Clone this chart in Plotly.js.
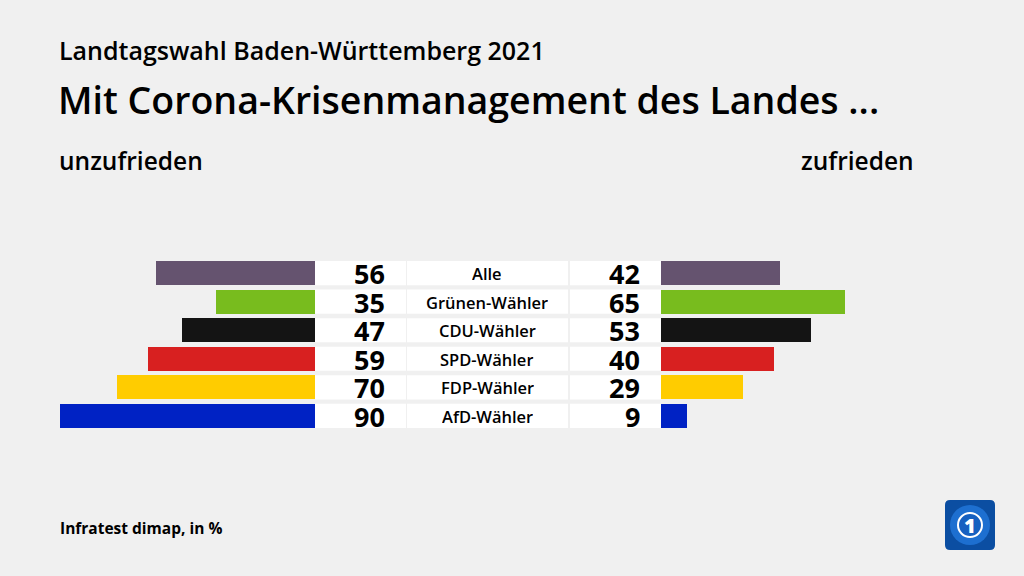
<!DOCTYPE html>
<html>
<head>
<meta charset="utf-8">
<script src="https://cdn.plot.ly/plotly-3.0.1.min.js"></script>
<style>html,body{margin:0;padding:0;background:#f0f0f0;}#chart{width:1024px;height:576px;}</style>
</head>
<body>
<div id="chart"></div>
<script>
const categories = ["Alle", "Grünen-Wähler", "CDU-Wähler", "SPD-Wähler", "FDP-Wähler", "AfD-Wähler"];
const unzufrieden = [56, 35, 47, 59, 70, 90];
const zufrieden = [42, 65, 53, 40, 29, 9];
const colors = ["#65536f", "#78bc1e", "#141414", "#d82020", "#ffcc00", "#0022c4"];

const FONT = "Open Sans, Noto Sans, sans-serif";
const rows = categories.map((c, i) => i);
const W = 1024, H = 576;
const px = v => v / W;
const py = v => 1 - v / H;
const scale = 2.833; // px per percentage point

const traces = [
  {type: "bar", orientation: "h", x: unzufrieden, y: rows, xaxis: "x", yaxis: "y",
   marker: {color: colors, line: {width: 0}}, width: 0.845, hoverinfo: "skip"},
  {type: "bar", orientation: "h", x: zufrieden, y: rows, xaxis: "x2", yaxis: "y",
   marker: {color: colors, line: {width: 0}}, width: 0.845, hoverinfo: "skip"}
];

const shapes = [];
const annotations = [];
rows.forEach(i => {
  [[315, 406], [407, 568], [570, 661]].forEach(([a, b]) => {
    shapes.push({type: "rect", xref: "paper", yref: "y", x0: px(a), x1: px(b), y0: i - 0.4225, y1: i + 0.4225,
      fillcolor: "#ffffff", line: {width: 0}, layer: "below"});
  });
  annotations.push({xref: "paper", yref: "y", x: px(386), y: i, xanchor: "right", yanchor: "middle",
    height: 24, valign: "middle", borderpad: 0,
    text: String(unzufrieden[i]), showarrow: false, font: {family: FONT, size: 27, color: "#000", weight: 700}});
  annotations.push({xref: "paper", yref: "y", x: px(641), y: i, xanchor: "right", yanchor: "middle",
    height: 24, valign: "middle", borderpad: 0,
    text: String(zufrieden[i]), showarrow: false, font: {family: FONT, size: 27, color: "#000", weight: 700}});
  annotations.push({xref: "paper", yref: "y", x: px(487), y: i, xanchor: "center", yanchor: "middle",
    height: 22, valign: "middle", borderpad: 0,
    text: categories[i], showarrow: false, font: {family: FONT, size: 16.5, color: "#000", weight: 600}});
});

annotations.push(
  {xref: "paper", yref: "paper", x: px(57), y: py(50), xanchor: "left", yanchor: "middle", showarrow: false,
   text: "Landtagswahl Baden-Württemberg 2021", font: {family: FONT, size: 25, color: "#000", weight: 600}},
  {xref: "paper", yref: "paper", x: px(56), y: py(99), xanchor: "left", yanchor: "middle", showarrow: false,
   text: "Mit Corona-Krisenmanagement des Landes ...", font: {family: FONT, size: 37.5, color: "#000", weight: 600}},
  {xref: "paper", yref: "paper", x: px(57), y: py(160), xanchor: "left", yanchor: "middle", showarrow: false,
   text: "unzufrieden", font: {family: FONT, size: 24.5, color: "#000", weight: 600}},
  {xref: "paper", yref: "paper", x: px(916), y: py(160), xanchor: "right", yanchor: "middle", showarrow: false,
   text: "zufrieden", font: {family: FONT, size: 24.5, color: "#000", weight: 600}},
  {xref: "paper", yref: "paper", x: px(58), y: py(528), xanchor: "left", yanchor: "middle", showarrow: false,
   text: "Infratest dimap, in %", font: {family: FONT, size: 15.5, color: "#000", weight: 700}},
  {xref: "paper", yref: "paper", x: px(970), y: py(525), xanchor: "center", yanchor: "middle", showarrow: false,
   text: "1", font: {family: FONT, size: 20, color: "#ffffff", weight: 800}}
);

// logo
const lx0 = 945, lx1 = 995, ly0 = 500, ly1 = 550, r = 5;
shapes.push(
  {type: "path", xref: "paper", yref: "paper",
   path: `M ${px(lx0 + r)} ${py(ly0)} L ${px(lx1 - r)} ${py(ly0)} Q ${px(lx1)} ${py(ly0)} ${px(lx1)} ${py(ly0 + r)} L ${px(lx1)} ${py(ly1 - r)} Q ${px(lx1)} ${py(ly1)} ${px(lx1 - r)} ${py(ly1)} L ${px(lx0 + r)} ${py(ly1)} Q ${px(lx0)} ${py(ly1)} ${px(lx0)} ${py(ly1 - r)} L ${px(lx0)} ${py(ly0 + r)} Q ${px(lx0)} ${py(ly0)} ${px(lx0 + r)} ${py(ly0)} Z`,
   fillcolor: "#0b4ea2", line: {width: 0}},
  {type: "circle", xref: "paper", yref: "paper", x0: px(950), x1: px(990), y0: py(505), y1: py(545),
   fillcolor: "#1d6fd0", line: {width: 0}},
  {type: "circle", xref: "paper", yref: "paper", x0: px(958), x1: px(982), y0: py(513), y1: py(537),
   fillcolor: "#1560c0", line: {width: 2, color: "#ffffff"}}
);

const layout = {
  width: W, height: H,
  margin: {l: 0, r: 0, t: 0, b: 0},
  paper_bgcolor: "#f0f0f0", plot_bgcolor: "rgba(0,0,0,0)",
  showlegend: false, hovermode: false, bargap: 0,
  xaxis: {domain: [0, px(315)], range: [315 / scale, 0], visible: false, fixedrange: true},
  xaxis2: {domain: [px(661), 1], range: [0, (W - 661) / scale], visible: false, fixedrange: true},
  yaxis: {domain: [py(430.2), py(258.8)], range: [5.5, -0.5], visible: false, fixedrange: true},
  shapes: shapes,
  annotations: annotations
};

Plotly.newPlot("chart", traces, layout, {displayModeBar: false, staticPlot: true});
</script>
</body>
</html>
